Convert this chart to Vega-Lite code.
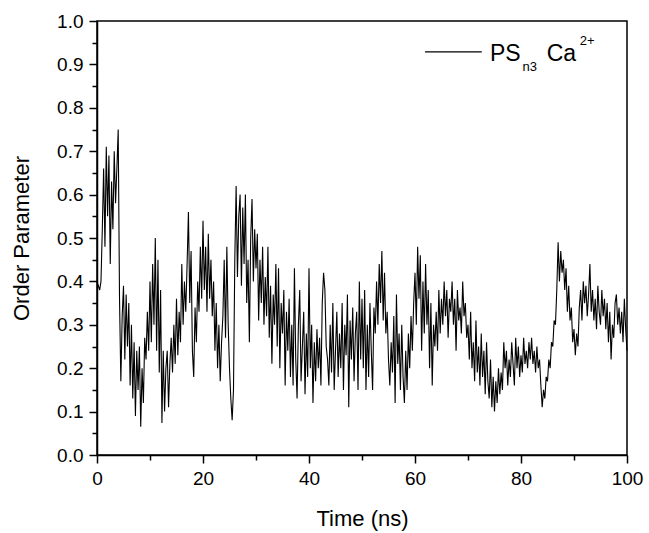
{
"$schema": "https://vega.github.io/schema/vega-lite/v6.json",
"width": 530, "height": 434,
"autosize": {"type": "none"},
"padding": {"left": 97, "top": 21, "right": 22, "bottom": 78},
"background": "white",
"config": {
 "font": "Liberation Sans",
 "view": {"stroke": "black", "strokeWidth": 1.5},
 "axis": {"grid": false, "domainColor": "black", "domainWidth": 1.5, "tickColor": "black", "tickWidth": 1.5, "labelColor": "black", "titleColor": "black", "labelFontSize": 19, "titleFontSize": 22, "titleFontWeight": "normal", "labelFont": "Liberation Sans", "titleFont": "Liberation Sans"}
},
"resolve": {"axis": {"x": "independent", "y": "independent"}},
"layer": [
{
 "data": {"values": [
{"t":0,"v":0.40},{"t":0.25,"v":0.39},{"t":0.5,"v":0.38},{"t":0.75,"v":0.40},
{"t":1,"v":0.52},{"t":1.25,"v":0.66},{"t":1.5,"v":0.48},{"t":1.75,"v":0.71},
{"t":2,"v":0.55},{"t":2.25,"v":0.69},{"t":2.5,"v":0.44},{"t":2.75,"v":0.63},
{"t":3,"v":0.52},{"t":3.25,"v":0.70},{"t":3.5,"v":0.58},{"t":3.75,"v":0.66},
{"t":4,"v":0.75},{"t":4.25,"v":0.36},{"t":4.5,"v":0.17},{"t":4.75,"v":0.32},
{"t":5,"v":0.39},{"t":5.25,"v":0.22},{"t":5.5,"v":0.37},{"t":5.75,"v":0.25},
{"t":6,"v":0.35},{"t":6.25,"v":0.16},{"t":6.5,"v":0.30},{"t":6.75,"v":0.13},
{"t":7,"v":0.26},{"t":7.25,"v":0.09},{"t":7.5,"v":0.24},{"t":7.75,"v":0.15},
{"t":8,"v":0.25},{"t":8.25,"v":0.065},{"t":8.5,"v":0.20},{"t":8.75,"v":0.12},
{"t":9,"v":0.27},{"t":9.25,"v":0.22},{"t":9.5,"v":0.33},{"t":9.75,"v":0.24},
{"t":10,"v":0.40},{"t":10.25,"v":0.26},{"t":10.5,"v":0.44},{"t":10.75,"v":0.30},
{"t":11,"v":0.50},{"t":11.25,"v":0.24},{"t":11.5,"v":0.45},{"t":11.75,"v":0.19},
{"t":12,"v":0.38},{"t":12.25,"v":0.074},{"t":12.5,"v":0.24},{"t":12.75,"v":0.10},
{"t":13,"v":0.20},{"t":13.25,"v":0.24},{"t":13.5,"v":0.11},{"t":13.75,"v":0.21},
{"t":14,"v":0.27},{"t":14.25,"v":0.19},{"t":14.5,"v":0.30},{"t":14.75,"v":0.21},
{"t":15,"v":0.36},{"t":15.25,"v":0.23},{"t":15.5,"v":0.33},{"t":15.75,"v":0.26},
{"t":16,"v":0.44},{"t":16.25,"v":0.30},{"t":16.5,"v":0.40},{"t":16.75,"v":0.33},
{"t":17,"v":0.44},{"t":17.25,"v":0.56},{"t":17.5,"v":0.35},{"t":17.75,"v":0.47},
{"t":18,"v":0.24},{"t":18.25,"v":0.18},{"t":18.5,"v":0.34},{"t":18.75,"v":0.26},
{"t":19,"v":0.40},{"t":19.25,"v":0.33},{"t":19.5,"v":0.48},{"t":19.75,"v":0.36},
{"t":20,"v":0.54},{"t":20.25,"v":0.38},{"t":20.5,"v":0.48},{"t":20.75,"v":0.33},
{"t":21,"v":0.51},{"t":21.25,"v":0.36},{"t":21.5,"v":0.45},{"t":21.75,"v":0.32},
{"t":22,"v":0.40},{"t":22.25,"v":0.24},{"t":22.5,"v":0.35},{"t":22.75,"v":0.20},
{"t":23,"v":0.30},{"t":23.25,"v":0.17},{"t":23.5,"v":0.26},{"t":23.75,"v":0.32},
{"t":24,"v":0.45},{"t":24.25,"v":0.27},{"t":24.5,"v":0.48},{"t":24.75,"v":0.30},
{"t":25,"v":0.20},{"t":25.25,"v":0.13},{"t":25.5,"v":0.08},{"t":25.75,"v":0.15},
{"t":26,"v":0.45},{"t":26.25,"v":0.62},{"t":26.5,"v":0.41},{"t":26.75,"v":0.55},
{"t":27,"v":0.60},{"t":27.25,"v":0.39},{"t":27.5,"v":0.57},{"t":27.75,"v":0.44},
{"t":28,"v":0.60},{"t":28.25,"v":0.35},{"t":28.5,"v":0.45},{"t":28.75,"v":0.26},
{"t":29,"v":0.50},{"t":29.25,"v":0.59},{"t":29.5,"v":0.40},{"t":29.75,"v":0.52},
{"t":30,"v":0.43},{"t":30.25,"v":0.51},{"t":30.5,"v":0.31},{"t":30.75,"v":0.45},
{"t":31,"v":0.35},{"t":31.25,"v":0.48},{"t":31.5,"v":0.30},{"t":31.75,"v":0.41},
{"t":32,"v":0.32},{"t":32.25,"v":0.48},{"t":32.5,"v":0.27},{"t":32.75,"v":0.39},
{"t":33,"v":0.21},{"t":33.25,"v":0.37},{"t":33.5,"v":0.30},{"t":33.75,"v":0.44},
{"t":34,"v":0.25},{"t":34.25,"v":0.43},{"t":34.5,"v":0.20},{"t":34.75,"v":0.35},
{"t":35,"v":0.28},{"t":35.25,"v":0.38},{"t":35.5,"v":0.16},{"t":35.75,"v":0.33},
{"t":36,"v":0.24},{"t":36.25,"v":0.36},{"t":36.5,"v":0.18},{"t":36.75,"v":0.30},
{"t":37,"v":0.16},{"t":37.25,"v":0.43},{"t":37.5,"v":0.22},{"t":37.75,"v":0.13},
{"t":38,"v":0.30},{"t":38.25,"v":0.38},{"t":38.5,"v":0.17},{"t":38.75,"v":0.25},
{"t":39,"v":0.33},{"t":39.25,"v":0.14},{"t":39.5,"v":0.28},{"t":39.75,"v":0.18},
{"t":40,"v":0.43},{"t":40.25,"v":0.20},{"t":40.5,"v":0.30},{"t":40.75,"v":0.12},
{"t":41,"v":0.26},{"t":41.25,"v":0.17},{"t":41.5,"v":0.29},{"t":41.75,"v":0.20},
{"t":42,"v":0.27},{"t":42.25,"v":0.16},{"t":42.5,"v":0.35},{"t":42.75,"v":0.42},
{"t":43,"v":0.38},{"t":43.25,"v":0.25},{"t":43.5,"v":0.22},{"t":43.75,"v":0.16},
{"t":44,"v":0.30},{"t":44.25,"v":0.19},{"t":44.5,"v":0.35},{"t":44.75,"v":0.15},
{"t":45,"v":0.24},{"t":45.25,"v":0.33},{"t":45.5,"v":0.18},{"t":45.75,"v":0.28},
{"t":46,"v":0.20},{"t":46.25,"v":0.35},{"t":46.5,"v":0.15},{"t":46.75,"v":0.30},
{"t":47,"v":0.23},{"t":47.25,"v":0.37},{"t":47.5,"v":0.11},{"t":47.75,"v":0.31},
{"t":48,"v":0.22},{"t":48.25,"v":0.34},{"t":48.5,"v":0.17},{"t":48.75,"v":0.28},
{"t":49,"v":0.33},{"t":49.25,"v":0.15},{"t":49.5,"v":0.40},{"t":49.75,"v":0.22},
{"t":50,"v":0.36},{"t":50.25,"v":0.20},{"t":50.5,"v":0.38},{"t":50.75,"v":0.15},
{"t":51,"v":0.30},{"t":51.25,"v":0.18},{"t":51.5,"v":0.35},{"t":51.75,"v":0.24},
{"t":52,"v":0.15},{"t":52.25,"v":0.34},{"t":52.5,"v":0.28},{"t":52.75,"v":0.40},
{"t":53,"v":0.30},{"t":53.25,"v":0.44},{"t":53.5,"v":0.35},{"t":53.75,"v":0.47},
{"t":54,"v":0.31},{"t":54.25,"v":0.42},{"t":54.5,"v":0.28},{"t":54.75,"v":0.33},
{"t":55,"v":0.22},{"t":55.25,"v":0.16},{"t":55.5,"v":0.26},{"t":55.75,"v":0.19},
{"t":56,"v":0.32},{"t":56.25,"v":0.12},{"t":56.5,"v":0.37},{"t":56.75,"v":0.21},
{"t":57,"v":0.28},{"t":57.25,"v":0.15},{"t":57.5,"v":0.30},{"t":57.75,"v":0.18},
{"t":58,"v":0.12},{"t":58.25,"v":0.24},{"t":58.5,"v":0.15},{"t":58.75,"v":0.28},
{"t":59,"v":0.20},{"t":59.25,"v":0.32},{"t":59.5,"v":0.24},{"t":59.75,"v":0.35},
{"t":60,"v":0.42},{"t":60.25,"v":0.30},{"t":60.5,"v":0.48},{"t":60.75,"v":0.36},
{"t":61,"v":0.46},{"t":61.25,"v":0.24},{"t":61.5,"v":0.40},{"t":61.75,"v":0.28},
{"t":62,"v":0.44},{"t":62.25,"v":0.30},{"t":62.5,"v":0.38},{"t":62.75,"v":0.20},
{"t":63,"v":0.35},{"t":63.25,"v":0.16},{"t":63.5,"v":0.30},{"t":63.75,"v":0.25},
{"t":64,"v":0.33},{"t":64.25,"v":0.24},{"t":64.5,"v":0.38},{"t":64.75,"v":0.28},
{"t":65,"v":0.36},{"t":65.25,"v":0.30},{"t":65.5,"v":0.40},{"t":65.75,"v":0.32},
{"t":66,"v":0.38},{"t":66.25,"v":0.27},{"t":66.5,"v":0.36},{"t":66.75,"v":0.33},
{"t":67,"v":0.40},{"t":67.25,"v":0.30},{"t":67.5,"v":0.36},{"t":67.75,"v":0.24},
{"t":68,"v":0.38},{"t":68.25,"v":0.31},{"t":68.5,"v":0.34},{"t":68.75,"v":0.28},
{"t":69,"v":0.40},{"t":69.25,"v":0.32},{"t":69.5,"v":0.35},{"t":69.75,"v":0.27},
{"t":70,"v":0.30},{"t":70.25,"v":0.22},{"t":70.5,"v":0.33},{"t":70.75,"v":0.20},
{"t":71,"v":0.26},{"t":71.25,"v":0.17},{"t":71.5,"v":0.31},{"t":71.75,"v":0.19},
{"t":72,"v":0.25},{"t":72.25,"v":0.16},{"t":72.5,"v":0.28},{"t":72.75,"v":0.18},
{"t":73,"v":0.24},{"t":73.25,"v":0.14},{"t":73.5,"v":0.26},{"t":73.75,"v":0.17},
{"t":74,"v":0.13},{"t":74.25,"v":0.22},{"t":74.5,"v":0.11},{"t":74.75,"v":0.18},
{"t":75,"v":0.10},{"t":75.25,"v":0.17},{"t":75.5,"v":0.12},{"t":75.75,"v":0.20},
{"t":76,"v":0.14},{"t":76.25,"v":0.19},{"t":76.5,"v":0.15},{"t":76.75,"v":0.26},
{"t":77,"v":0.20},{"t":77.25,"v":0.24},{"t":77.5,"v":0.16},{"t":77.75,"v":0.22},
{"t":78,"v":0.18},{"t":78.25,"v":0.26},{"t":78.5,"v":0.21},{"t":78.75,"v":0.16},
{"t":79,"v":0.27},{"t":79.25,"v":0.20},{"t":79.5,"v":0.25},{"t":79.75,"v":0.18},
{"t":80,"v":0.23},{"t":80.25,"v":0.19},{"t":80.5,"v":0.27},{"t":80.75,"v":0.21},
{"t":81,"v":0.24},{"t":81.25,"v":0.20},{"t":81.5,"v":0.26},{"t":81.75,"v":0.22},
{"t":82,"v":0.27},{"t":82.25,"v":0.21},{"t":82.5,"v":0.24},{"t":82.75,"v":0.19},
{"t":83,"v":0.25},{"t":83.25,"v":0.20},{"t":83.5,"v":0.22},{"t":83.75,"v":0.16},
{"t":84,"v":0.11},{"t":84.25,"v":0.15},{"t":84.5,"v":0.13},{"t":84.75,"v":0.18},
{"t":85,"v":0.17},{"t":85.25,"v":0.22},{"t":85.5,"v":0.20},{"t":85.75,"v":0.26},
{"t":86,"v":0.25},{"t":86.25,"v":0.31},{"t":86.5,"v":0.30},{"t":86.75,"v":0.38},
{"t":87,"v":0.49},{"t":87.25,"v":0.40},{"t":87.5,"v":0.47},{"t":87.75,"v":0.42},
{"t":88,"v":0.45},{"t":88.25,"v":0.38},{"t":88.5,"v":0.43},{"t":88.75,"v":0.33},
{"t":89,"v":0.39},{"t":89.25,"v":0.31},{"t":89.5,"v":0.34},{"t":89.75,"v":0.26},
{"t":90,"v":0.29},{"t":90.25,"v":0.23},{"t":90.5,"v":0.28},{"t":90.75,"v":0.25},
{"t":91,"v":0.34},{"t":91.25,"v":0.38},{"t":91.5,"v":0.31},{"t":91.75,"v":0.40},
{"t":92,"v":0.35},{"t":92.25,"v":0.39},{"t":92.5,"v":0.32},{"t":92.75,"v":0.37},
{"t":93,"v":0.44},{"t":93.25,"v":0.33},{"t":93.5,"v":0.38},{"t":93.75,"v":0.31},
{"t":94,"v":0.36},{"t":94.25,"v":0.29},{"t":94.5,"v":0.39},{"t":94.75,"v":0.33},
{"t":95,"v":0.30},{"t":95.25,"v":0.38},{"t":95.5,"v":0.32},{"t":95.75,"v":0.36},
{"t":96,"v":0.29},{"t":96.25,"v":0.35},{"t":96.5,"v":0.26},{"t":96.75,"v":0.33},
{"t":97,"v":0.22},{"t":97.25,"v":0.30},{"t":97.5,"v":0.27},{"t":97.75,"v":0.35},
{"t":98,"v":0.37},{"t":98.25,"v":0.30},{"t":98.5,"v":0.34},{"t":98.75,"v":0.28},
{"t":99,"v":0.33},{"t":99.25,"v":0.26},{"t":99.5,"v":0.36},{"t":99.75,"v":0.29},
{"t":100,"v":0.24}
 ]},
 "mark": {"type": "line", "color": "black", "strokeWidth": 1.1},
 "encoding": {
  "x": {"field": "t", "type": "quantitative", "scale": {"domain": [0, 100], "nice": false, "zero": false},
   "axis": {"title": "Time (ns)", "orient": "bottom", "values": [0,20,40,60,80,100], "tickSize": 8, "labelPadding": 6, "titlePadding": 20, "labelFlush": false, "labelOverlap": false}},
  "y": {"field": "v", "type": "quantitative", "scale": {"domain": [0, 1], "nice": false},
   "axis": {"title": "Order Parameter", "orient": "left", "values": [0,0.1,0.2,0.3,0.4,0.5,0.6,0.7,0.8,0.9,1.0], "format": ".1f", "tickSize": 8, "labelPadding": 6, "titlePadding": 23, "labelFlush": false, "labelOverlap": false}}
 }
},
{
 "data": {"values": [{"a": 61.9, "b": 72.6, "v": 0.929}]},
 "mark": {"type": "rule", "color": "black", "strokeWidth": 1.2},
 "encoding": {
  "x": {"field": "a", "type": "quantitative", "axis": {"orient": "bottom", "values": [10,30,50,70,90], "tickSize": 5, "labels": false, "domain": false, "title": null}},
  "x2": {"field": "b"},
  "y": {"field": "v", "type": "quantitative", "axis": {"orient": "left", "values": [0.05,0.15,0.25,0.35,0.45,0.55,0.65,0.75,0.85,0.95], "tickSize": 5, "labels": false, "domain": false, "title": null}}
 }
},
{
 "data": {"values": [{"a": 74.15, "v": 0.908, "txt": "PS"}, {"a": 84.85, "v": 0.908, "txt": "Ca"}]},
 "mark": {"type": "text", "align": "left", "baseline": "alphabetic", "fontSize": 23, "color": "black", "font": "Liberation Sans"},
 "encoding": {"x": {"field": "a", "type": "quantitative", "axis": null}, "y": {"field": "v", "type": "quantitative", "axis": null}, "text": {"field": "txt"}}
},
{
 "data": {"values": [{"a": 80.3, "v": 0.884, "txt": "n3"}, {"a": 91.1, "v": 0.945, "txt": "2+"}]},
 "mark": {"type": "text", "align": "left", "baseline": "alphabetic", "fontSize": 13, "color": "black", "font": "Liberation Sans"},
 "encoding": {"x": {"field": "a", "type": "quantitative", "axis": null}, "y": {"field": "v", "type": "quantitative", "axis": null}, "text": {"field": "txt"}}
}
]
}
